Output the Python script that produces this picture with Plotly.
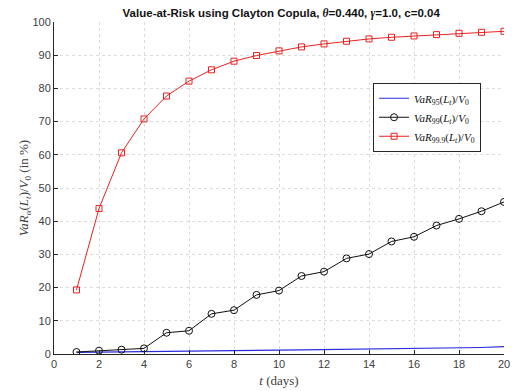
import plotly.graph_objects as go

# horizon in days
days = list(range(1, 21))

# VaR as percentage of initial portfolio value V0
var95 = [0.50, 0.60, 0.70, 0.79, 0.87, 0.94, 1.00, 1.06, 1.12, 1.18,
         1.24, 1.31, 1.38, 1.45, 1.53, 1.61, 1.71, 1.82, 1.96, 2.20]
var99 = [0.6, 1.0, 1.3, 1.7, 6.4, 7.0, 12.1, 13.2, 17.8, 19.1,
         23.5, 24.8, 28.8, 30.1, 33.9, 35.3, 38.7, 40.7, 43.0, 45.8]
var999 = [19.3, 43.8, 60.6, 70.8, 77.7, 82.2, 85.6, 88.2, 89.9, 91.3,
          92.5, 93.4, 94.2, 94.9, 95.4, 95.8, 96.2, 96.6, 96.9, 97.2]

xticks = list(range(0, 21, 2))
yticks = list(range(0, 101, 10))

serif = "Liberation Serif, DejaVu Serif, serif"
sans = "Liberation Sans, Arial, sans-serif"

fig = go.Figure()
fig.add_trace(go.Scatter(
    x=days, y=var95, mode="lines",
    line=dict(color="#2b2bdc", width=1.2),
    name="<i>VaR</i><sub>95</sub>(<i>L</i><sub><i>t</i></sub>)/<i>V</i><sub>0</sub>",
))
fig.add_trace(go.Scatter(
    x=days, y=var99, mode="lines+markers",
    line=dict(color="#111111", width=1),
    marker=dict(symbol="circle-open", size=7, color="#111111", line=dict(width=1)),
    name="<i>VaR</i><sub>99</sub>(<i>L</i><sub><i>t</i></sub>)/<i>V</i><sub>0</sub>",
))
fig.add_trace(go.Scatter(
    x=days, y=var999, mode="lines+markers",
    line=dict(color="#ec2020", width=1),
    marker=dict(symbol="square-open", size=6, color="#ec2020", line=dict(width=1)),
    name="<i>VaR</i><sub>99.9</sub>(<i>L</i><sub><i>t</i></sub>)/<i>V</i><sub>0</sub>",
))

axis_common = dict(
    showline=True, linecolor="#262626", linewidth=1,
    ticks="inside", ticklen=4, tickcolor="#262626",
    showgrid=True, gridcolor="#dcdcdc", griddash="dot", gridwidth=1,
    zeroline=False, mirror=False, automargin=False,
    tickfont=dict(family=sans, size=11, color="#404040"),
)

greek = "<span style='font-family:Liberation Serif, serif'><i>{}</i></span>"

fig.update_layout(
    width=516, height=391,
    margin=dict(l=54, r=12, t=22, b=37),
    paper_bgcolor="white", plot_bgcolor="white",
    title=dict(
        text="<b>Value-at-Risk using Clayton Copula, " + greek.format("θ") + "=0.440, "
             + greek.format("γ") + "=1.0, c=0.04</b>",
        x=0.545, xanchor="center", y=0.968, yanchor="middle",
        font=dict(family=sans, size=11.5, color="#111111"),
    ),
    xaxis=dict(
        range=[0, 20], tickvals=xticks,
        title=dict(text="<i>t</i> (days)", font=dict(family=serif, size=13, color="#404040"), standoff=6),
        **axis_common,
    ),
    yaxis=dict(
        range=[0, 100], tickvals=yticks,
        title=dict(text="<i>VaR</i><sub><i>α</i></sub>(<i>L</i><sub><i>t</i></sub>)/<i>V</i><sub>0</sub> (in %)",
                   font=dict(family=serif, size=13, color="#404040"), standoff=0),
        **axis_common,
    ),
    legend=dict(
        x=0.709, y=0.817, xanchor="left", yanchor="top",
        bgcolor="white", bordercolor="#262626", borderwidth=1,
        font=dict(family=serif, size=11, color="#111111"),
        itemwidth=30, tracegroupgap=0,
    ),
    showlegend=True,
)

fig.write_html("out.html")
